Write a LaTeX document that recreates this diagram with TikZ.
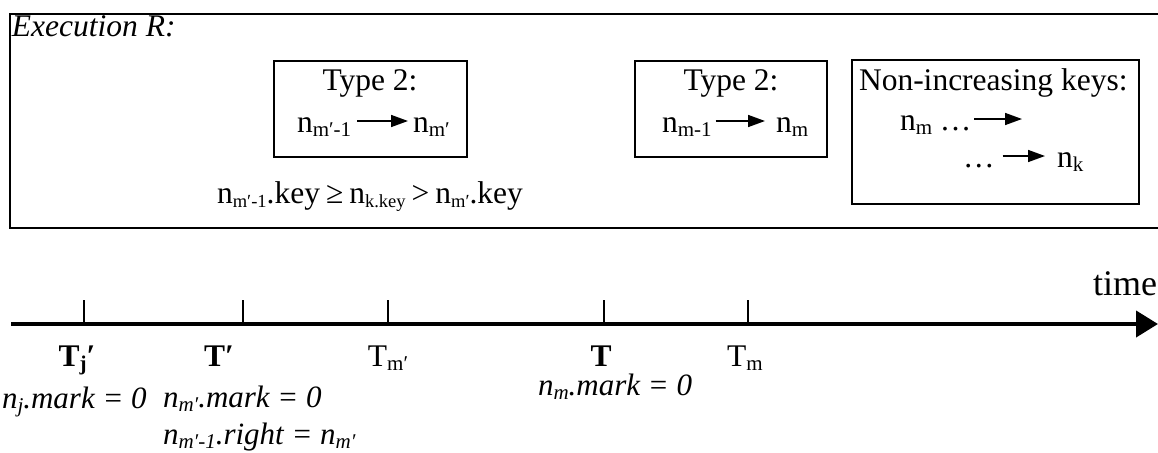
\documentclass[tikz,border=0pt]{standalone}
\usepackage{fontspec}
\setmainfont{Liberation Serif}[ItalicFont={Liberation Serif Italic},BoldFont={Liberation Serif Bold},BoldItalicFont={Liberation Serif Bold Italic}]
\usetikzlibrary{arrows.meta,calc}
\newcommand\sbs[1]{\raisebox{-4pt}{\fontsize{21}{21}\selectfont #1}}
\newcommand\sbk[1]{\raisebox{-4pt}{\fontsize{18.5}{18.5}\selectfont #1}}
\newcommand\gap{\hspace{6pt}}
\begin{document}
\begin{tikzpicture}[x=1pt,y=-1pt,
  every node/.style={inner sep=0pt, outer sep=0pt, font=\fontsize{31.5}{36}\selectfont},
  lbl/.style={anchor=base},
  lblw/.style={anchor=base west},
  framebox/.style={draw, line width=1.8pt, anchor=north west},
  smallarrow/.style={line width=1.6pt, -{Triangle[length=17pt,width=12pt]}},
  timeline/.style={line width=4pt, -{Triangle[length=22pt,width=26pt]}},
  tick/.style={line width=1.5pt},
  itlbl/.style={anchor=base west, font=\fontsize{31}{36}\selectfont\itshape},
]
\useasboundingbox (0,0) rectangle (1158,452);
% outer frame (open on the right, beyond the picture edge)
\coordinate (o1) at (1170,14);
\coordinate (o2) at (10,14);
\coordinate (o3) at (10,228);
\coordinate (o4) at (1170,228);
\draw[line width=1.8pt] (o1) -- (o2) -- (o3) -- (o4);
\node[lblw, font=\fontsize{31.5}{36}\selectfont\itshape] (exec) at (12,37) {Execution R:};

% box 1
\node[framebox, minimum width=193pt, minimum height=96pt] (box1) at (274,61) {};
\node[lbl] (t1) at (370,90) {Type 2:};
\node[lblw] (a1) at (297,132) {n\sbs{m′-1}};
\node[lblw] (b1) at (413,132) {n\sbs{m′}};
\draw[smallarrow] ($(a1.base east)+(6,-11)$) -- ($(b1.base west)+(-5,-11)$);
\node[lbl] (keytext) at (370,203) {n\sbk{m′-1}.key\gap≥\gap n\sbk{k.key}\gap>\gap n\sbk{m′}.key};

% box 2
\node[framebox, minimum width=192pt, minimum height=96pt] (box2) at (635,61) {};
\node[lbl] (t2) at (731,90) {Type 2:};
\node[lblw] (a2) at (662,132) {n\sbs{m-1}};
\node[lblw] (b2) at (776,132) {n\sbs{m}};
\draw[smallarrow] ($(a2.base east)+(4,-11)$) -- ($(b2.base west)+(-11,-11)$);

% box 3
\node[framebox, minimum width=287pt, minimum height=144pt] (box3) at (852,60) {};
\node[lblw] (t3) at (859,90) {Non-increasing keys:};
\node[lblw] (c1) at (900,130) {n\sbs{m} …};
\coordinate (c1end) at (1022,119);
\draw[smallarrow] ($(c1.base east)+(3,-11)$) -- (c1end);
\node[lblw] (c2) at (963,167) {…};
\node[lblw] (c3) at (1057,167) {n\sbs{k}};
\draw[smallarrow] ($(c2.base east)+(8,-11)$) -- ($(c3.base west)+(-12,-11)$);

% timeline
\coordinate (tl0) at (11,324);
\coordinate (tl1) at (1158,324);
\draw[timeline] (tl0) -- (tl1);
\node[anchor=base east, font=\fontsize{36}{40}\selectfont] (time) at (1157,295) {time};
\foreach \n/\x in {k1/84,k2/243,k3/388,k4/604,k5/748}{
  \coordinate (\n) at (\x,324);
  \draw[tick] (\n) -- ++(0,-24);
}
\node[lbl] (Tj) at (77,366) {\bfseries T\sbs{j}′};
\node[lbl] (Tp) at (219,366) {\bfseries T′};
\node[lbl] (Tmp) at (388,366) {T\sbs{m′}};
\node[lbl] (T) at (601,366) {\bfseries T};
\node[lbl] (Tm) at (745,366) {T\sbs{m}};

\node[itlbl] (nj) at (2,408) {n\sbs{j}.mark = 0};
\node[itlbl] (nmp) at (163,407) {n\sbs{m′}.mark = 0};
\node[itlbl] (nmr) at (163,444) {n\sbs{m′-1}.right = n\sbs{m′}};
\node[itlbl] (nm) at (538,395) {n\sbs{m}.mark = 0};
\end{tikzpicture}
\end{document}
